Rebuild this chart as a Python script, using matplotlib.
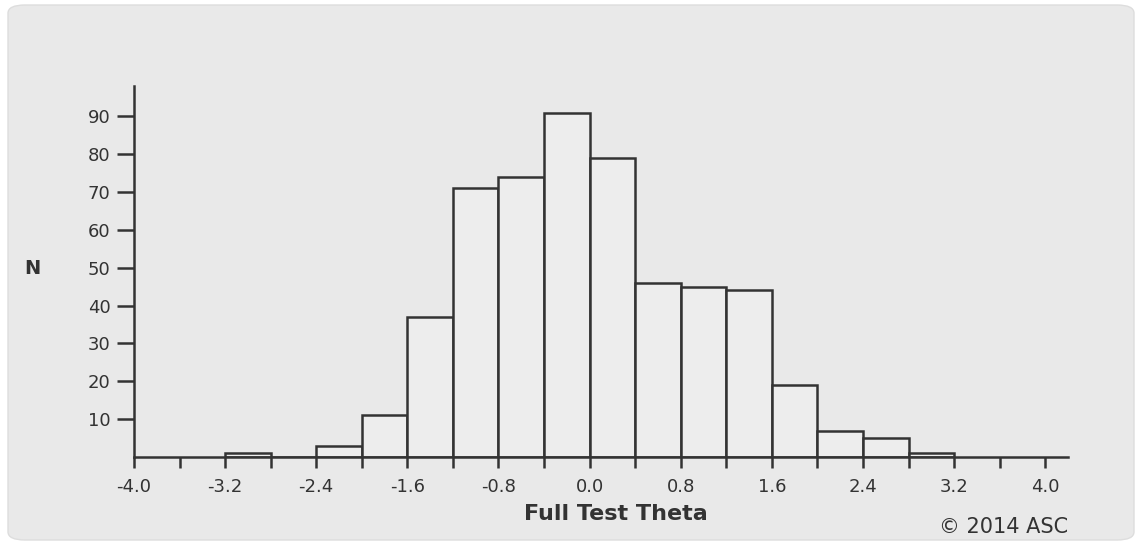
import matplotlib.pyplot as plt
from matplotlib.patches import FancyBboxPatch
import numpy as np

plt.rcParams['font.family'] = ['DejaVu Sans']
plt.rcParams['axes.unicode_minus'] = False

# Histogram bins (left edges) and counts
bin_starts = [-3.2, -2.8, -2.4, -2.0, -1.6, -1.2, -0.8, -0.4,
              0.0, 0.4, 0.8, 1.2, 1.6, 2.0, 2.4, 2.8]
counts = [1, 0, 3, 11, 37, 71, 74, 91, 79, 46, 45, 44, 19, 7, 5, 1]
bin_width = 0.4

x_major = [-4.0, -3.2, -2.4, -1.6, -0.8, 0.0, 0.8, 1.6, 2.4, 3.2, 4.0]
y_ticks = [10, 20, 30, 40, 50, 60, 70, 80, 90]

ink = '#333333'
panel = '#e9e9e9'

fig = plt.figure(figsize=(11.4, 5.44), dpi=100)
fig.patch.set_facecolor('white')

# rounded grey panel behind the chart
bg = FancyBboxPatch((8 / 1140, 4 / 544), 1126 / 1140, 535 / 544,
                    boxstyle='round,pad=0,rounding_size=0.015',
                    transform=fig.transFigure, facecolor=panel,
                    edgecolor='#dddddd', linewidth=1, zorder=-10)
fig.patches.append(bg)

ax = fig.add_axes([134 / 1140, 87 / 544, 934 / 1140, 371 / 544])
ax.set_facecolor('none')

ax.bar(bin_starts, counts, width=bin_width, align='edge',
       facecolor='#ededed', edgecolor=ink, linewidth=1.8, zorder=2)

ax.set_xlim(-4.0, 4.2)
ax.set_ylim(0, 98)

for side in ['top', 'right']:
    ax.spines[side].set_visible(False)
for side in ['left', 'bottom']:
    ax.spines[side].set_color(ink)
    ax.spines[side].set_linewidth(1.8)

ax.set_xticks(x_major)
ax.set_xticklabels([f'{v:.1f}' for v in x_major])
ax.set_xticks(np.arange(-3.6, 4.0, 0.8), minor=True)
ax.set_yticks(y_ticks)
ax.set_yticklabels([str(v) for v in y_ticks])

ax.tick_params(axis='both', which='both', direction='out',
               width=1.8, color=ink, labelcolor=ink, labelsize=13)
ax.tick_params(axis='x', which='both', length=8)
ax.tick_params(axis='x', which='major', pad=7)
ax.tick_params(axis='y', length=12, pad=5)

ax.set_xlabel('Full Test Theta', fontsize=16, fontweight='bold', color=ink)
ax.xaxis.set_label_coords((616 - 134) / 934, (457 - 514) / 371)
ax.xaxis.label.set_va('center')

fig.text(32 / 1140, 1 - 269 / 544, 'N', fontsize=14, fontweight='bold',
         color=ink, ha='center', va='center')
fig.text(1068 / 1140, 1 - 527 / 544, '© 2014 ASC', fontsize=15,
         color=ink, ha='right', va='center')

fig.savefig('out.png', dpi=100, facecolor=fig.get_facecolor())
